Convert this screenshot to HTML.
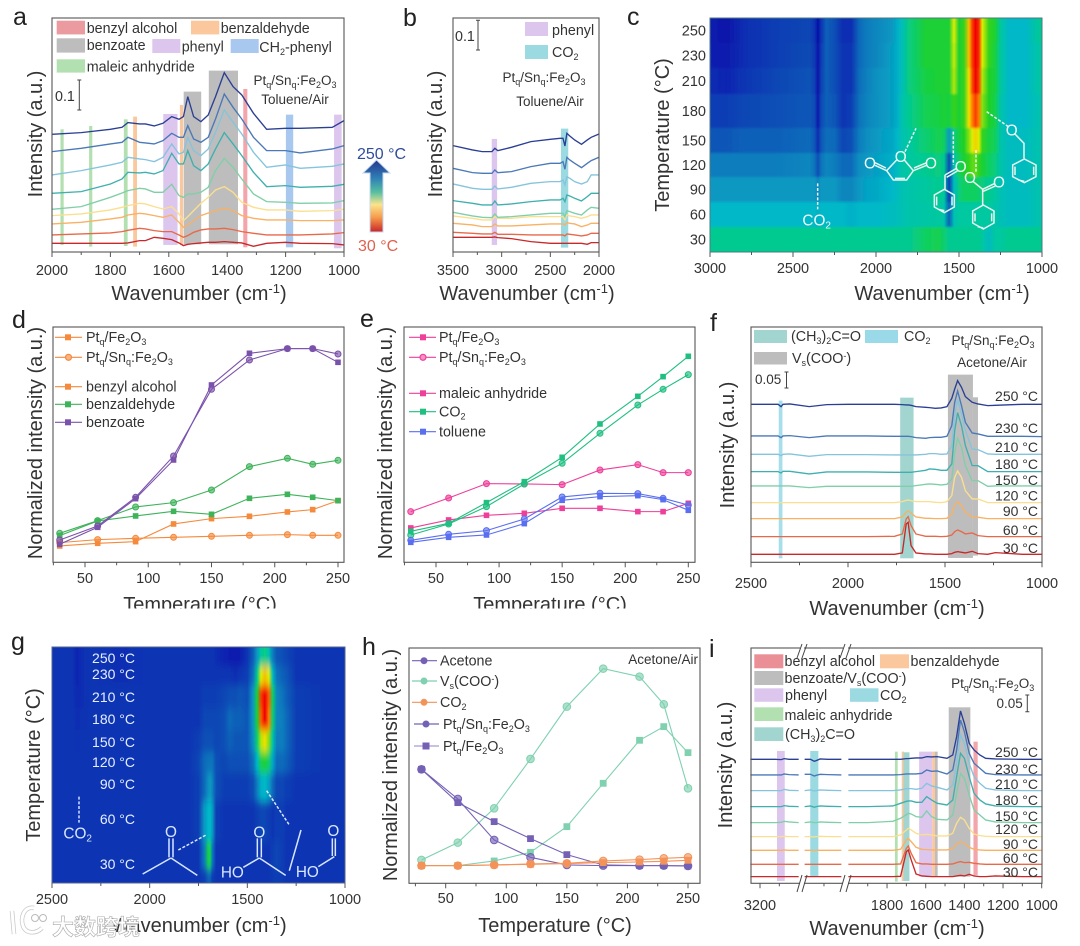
<!DOCTYPE html>
<html lang="en">
<head>
<meta charset="utf-8">
<title>Spectroscopy panels a–i</title>
<style>
html,body{margin:0;padding:0;background:#fff;width:1080px;height:946px;overflow:hidden}
svg{display:block;filter:blur(0.35px)}
text{font-family:"Liberation Sans","Noto Sans CJK SC",sans-serif;fill:#333}
.l{font-size:14.3px}
.f{font-size:13.5px}
.tt{font-size:20px;text-anchor:middle}
.letter{font-size:25px;fill:#222}
.frame{fill:none;stroke:#555;stroke-width:1.1}
.bar{stroke:#444;stroke-width:1;fill:none}
.tick{font-size:14.5px;text-anchor:middle}
.tmp{font-size:14px;text-anchor:end}
.w{fill:#e6efff}
.mol{stroke:#e8f6f0;stroke-width:4.5;fill:none}
.dash{stroke:#e8f6f0;stroke-width:4.5;fill:none;stroke-dasharray:9 5}
.molt{font-size:46px;fill:#f0fbf6;text-anchor:middle}
.molg{font-size:46px;fill:#d8e6ff;text-anchor:middle}
</style>
</head>
<body>
<svg id="figure" xmlns="http://www.w3.org/2000/svg" width="1080" height="946" viewBox="0 0 1080 946">
<defs>
<linearGradient id="arrow-gradient" x1="0" y1="0" x2="0" y2="1">
<stop offset="0" stop-color="#25358f"/><stop offset=".25" stop-color="#2f7fb5"/><stop offset=".45" stop-color="#58c0a0"/><stop offset=".62" stop-color="#fbe48c"/><stop offset=".8" stop-color="#f59a4a"/><stop offset="1" stop-color="#c8252a"/>
</linearGradient>
<filter id="blur-c" x="0" y="-10%" width="100%" height="120%"><feGaussianBlur stdDeviation="0 1"/></filter>
<filter id="blur-g" x="0" y="-10%" width="100%" height="120%"><feGaussianBlur stdDeviation="0 4.5"/></filter>
<clipPath id="clip-c"><rect x="710" y="18" width="332" height="234"/></clipPath>
<clipPath id="clip-g"><rect x="52" y="647" width="293" height="236"/></clipPath>
<clipPath id="clip-title"><rect x="0" y="585" width="1080" height="23.5"/></clipPath>
</defs>

<!-- PANEL A -->
<g>
<text class="letter" x="13" y="25">a</text>
<g id="a-bands"></g>
<g id="a-lines"></g>
<rect class="frame" x="52" y="18" width="292" height="234"/>
<g id="a-ticks"></g>
<text class="tt" transform="translate(35,134) rotate(-90)" dy=".35em">Intensity (a.u.)</text>
<text class="tt" x="199" y="300">Wavenumber (cm<tspan dy="-7" font-size="13">-1</tspan><tspan dy="7">)</tspan></text>
<g>
<rect x="56.7" y="20.7" width="28.3" height="13.7" fill="#eb9aa0"/>
<text class="l" x="86.7" y="33">benzyl alcohol</text>
<rect x="191" y="20.7" width="28.3" height="13.7" fill="#fbc79c"/>
<text class="l" x="220.7" y="33">benzaldehyde</text>
<rect x="56.7" y="38.3" width="28.3" height="14.3" fill="#bdbdbd"/>
<text class="l" x="86.7" y="50">benzoate</text>
<rect x="152.3" y="39" width="28" height="14" fill="#dcc6ee"/>
<text class="l" x="181.7" y="51.7">phenyl</text>
<rect x="230.7" y="39" width="28" height="14" fill="#a8c8f0"/>
<text class="l" x="259.3" y="52">CH<tspan dy="3" font-size="9">2</tspan><tspan dy="-3">-phenyl</tspan></text>
<rect x="56.7" y="59.3" width="28.3" height="13.3" fill="#b3e0b0"/>
<text class="l" x="86.7" y="71.7">maleic anhydride</text>
</g>
<text class="f" x="295" y="85" text-anchor="middle">Pt<tspan dy="3" font-size="9">q</tspan><tspan dy="-3">/Sn</tspan><tspan dy="3" font-size="9">q</tspan><tspan dy="-3">:Fe</tspan><tspan dy="3" font-size="9">2</tspan><tspan dy="-3">O</tspan><tspan dy="3" font-size="9">3</tspan></text>
<text class="f" x="295" y="104" text-anchor="middle">Toluene/Air</text>
<path class="bar" d="M77.3 80H81.3M79.3 80V110M77.3 110H81.3"/>
<text class="l" x="55" y="101">0.1</text>
<polygon points="376.5,160 390,173 383,173 383,232 370,232 370,173 363,173" fill="url(#arrow-gradient)" stroke="#c9d7f2" stroke-width="1"/>
<text x="357" y="159" font-size="16" style="fill:#2f4d9c">250 °C</text>
<text x="358" y="251" font-size="16" style="fill:#e0604e">30 °C</text>
</g>

<!-- PANEL B -->
<g>
<text class="letter" x="403" y="26">b</text>
<g id="b-bands"></g>
<g id="b-lines"></g>
<rect class="frame" x="453" y="18" width="146" height="234"/>
<g id="b-ticks"></g>
<text class="tt" transform="translate(435,134) rotate(-90)" dy=".35em">Intensity (a.u.)</text>
<text class="tt" x="527" y="300">Wavenumber (cm<tspan dy="-7" font-size="13">-1</tspan><tspan dy="7">)</tspan></text>
<rect x="525" y="22" width="23" height="14" fill="#dcc6ee"/>
<text class="l" x="552" y="35">phenyl</text>
<rect x="525" y="45" width="23" height="14" fill="#9adae0"/>
<text class="l" x="552" y="57">CO<tspan dy="3" font-size="9">2</tspan></text>
<text class="f" x="544" y="82" text-anchor="middle">Pt<tspan dy="3" font-size="9">q</tspan><tspan dy="-3">/Sn</tspan><tspan dy="3" font-size="9">q</tspan><tspan dy="-3">:Fe</tspan><tspan dy="3" font-size="9">2</tspan><tspan dy="-3">O</tspan><tspan dy="3" font-size="9">3</tspan></text>
<text class="f" x="550" y="106" text-anchor="middle">Toluene/Air</text>
<path class="bar" d="M476 20.300H480M478 20.300V50M476 50H480"/>
<text class="l" x="455" y="41">0.1</text>
</g>

<!-- PANEL C -->
<g>
<text class="letter" x="627" y="25">c</text>
<g clip-path="url(#clip-c)"><g id="c-heat" filter="url(#blur-c)"></g></g>
<rect x="710" y="18" width="332" height="234" fill="none" stroke="#4d7a80" stroke-width="1"/>
<g id="c-ticks"></g>
<g id="c-yticks"></g>
<text class="tt" transform="translate(662,135) rotate(-90)" dy=".35em">Temperature (°C)</text>
<text class="tt" x="942" y="300">Wavenumber (cm<tspan dy="-7" font-size="13">-1</tspan><tspan dy="7">)</tspan></text>
<g transform="translate(640,0) scale(.33333)">
<path class="dash" d="M533 550V628"/>
<text class="molt" x="530" y="676">CO<tspan dy="9" font-size="30">2</tspan></text>
<g>
<path class="dash" d="M795 455L828 385"/>
<path class="mol" d="M770 480L740 512L760 540H800L820 512L793 480M765 535H795M740 512L705 496M738 504L705 488M820 512L860 496M822 504L860 488"/>
<text class="molt" x="782" y="486">O</text><text class="molt" x="690" y="506">O</text><text class="molt" x="873" y="506">O</text>
</g>
<g>
<path class="dash" d="M940 395V495"/>
<path class="mol" d="M950 505L915 525M952 513L920 532M915 525V570M913 568L943 585V621L913 638L883 621V585ZM890 590V616M936 590V616M895 628L913 632"/>
<text class="molt" x="962" y="516">O</text>
</g>
<g>
<path class="dash" d="M1008 450V520"/>
<path class="mol" d="M1000 545L1028 568L1065 550M1030 574L1066 558M1028 568V615M1030 615L1062 633V669L1030 687L998 669V633ZM1005 640V664M1055 640V664M1013 680L1030 684"/>
<text class="molt" x="990" y="549">O</text><text class="molt" x="1077" y="563">O</text>
</g>
<g>
<path class="dash" d="M1040 335L1105 380"/>
<path class="mol" d="M1125 402L1152 430V475M1153 477L1188 495V530L1153 548L1118 530V495ZM1125 500V525M1181 500V525M1135 540L1153 544"/>
<text class="molt" x="1115" y="406">O</text>
</g>
</g>
</g>

<!-- PANEL D -->
<g>
<text class="letter" x="12" y="328">d</text>
<g id="d-lines"></g>
<rect class="frame" x="53" y="327" width="291" height="235.300"/>
<g id="d-ticks"></g>
<text class="tt" transform="translate(35,443) rotate(-90)" dy=".35em">Normalized intensity (a.u.)</text>
<g clip-path="url(#clip-title)"><text class="tt" x="200" y="611">Temperature (°C)</text></g>
<g stroke-width="1.2">
<path d="M55 337.300H82" stroke="#f58a3c"/><rect x="65" y="334.300" width="6" height="6" fill="#f58a3c"/>
<text class="l" x="86" y="342">Pt<tspan dy="3" font-size="9">q</tspan><tspan dy="-3">/Fe</tspan><tspan dy="3" font-size="9">2</tspan><tspan dy="-3">O</tspan><tspan dy="3" font-size="9">3</tspan></text>
<path d="M55 357.300H82" stroke="#f58a3c"/><circle cx="68.500" cy="357.300" r="3" fill="#f9b483" stroke="#f58a3c"/>
<text class="l" x="86" y="362">Pt<tspan dy="3" font-size="9">q</tspan><tspan dy="-3">/Sn</tspan><tspan dy="3" font-size="9">q</tspan><tspan dy="-3">:Fe</tspan><tspan dy="3" font-size="9">2</tspan><tspan dy="-3">O</tspan><tspan dy="3" font-size="9">3</tspan></text>
<path d="M55 386.700H82" stroke="#f58a3c"/><rect x="65" y="383.700" width="6" height="6" fill="#f58a3c"/>
<text class="l" x="86" y="391.500">benzyl alcohol</text>
<path d="M55 404.300H82" stroke="#3fb35a"/><rect x="65" y="401.300" width="6" height="6" fill="#3fb35a"/>
<text class="l" x="86" y="409">benzaldehyde</text>
<path d="M55 422.300H82" stroke="#7b52ab"/><rect x="65" y="419.300" width="6" height="6" fill="#7b52ab"/>
<text class="l" x="86" y="427">benzoate</text>
</g>
</g>

<!-- PANEL E -->
<g>
<text class="letter" x="360" y="327">e</text>
<g id="e-lines"></g>
<rect class="frame" x="404" y="327" width="291" height="235.300"/>
<g id="e-ticks"></g>
<text class="tt" transform="translate(385,443) rotate(-90)" dy=".35em">Normalized intensity (a.u.)</text>
<g clip-path="url(#clip-title)"><text class="tt" x="550" y="611">Temperature (°C)</text></g>
<g stroke-width="1.2">
<path d="M409 337.300H436" stroke="#ee3f9a"/><rect x="420" y="334.300" width="6" height="6" fill="#ee3f9a"/>
<text class="l" x="439" y="342">Pt<tspan dy="3" font-size="9">q</tspan><tspan dy="-3">/Fe</tspan><tspan dy="3" font-size="9">2</tspan><tspan dy="-3">O</tspan><tspan dy="3" font-size="9">3</tspan></text>
<path d="M409 357.300H436" stroke="#ee3f9a"/><circle cx="423" cy="357.300" r="3" fill="#f58fc4" stroke="#ee3f9a"/>
<text class="l" x="439" y="362">Pt<tspan dy="3" font-size="9">q</tspan><tspan dy="-3">/Sn</tspan><tspan dy="3" font-size="9">q</tspan><tspan dy="-3">:Fe</tspan><tspan dy="3" font-size="9">2</tspan><tspan dy="-3">O</tspan><tspan dy="3" font-size="9">3</tspan></text>
<path d="M409 393.300H436" stroke="#ee3f9a"/><rect x="420" y="390.300" width="6" height="6" fill="#ee3f9a"/>
<text class="l" x="439" y="398">maleic anhydride</text>
<path d="M409 411.700H436" stroke="#1fbf80"/><rect x="420" y="408.700" width="6" height="6" fill="#1fbf80"/>
<text class="l" x="439" y="416.500">CO<tspan dy="3" font-size="9">2</tspan></text>
<path d="M409 431.700H436" stroke="#5a6ff0"/><rect x="420" y="428.700" width="6" height="6" fill="#5a6ff0"/>
<text class="l" x="439" y="436.500">toluene</text>
</g>
</g>

<!-- PANEL F -->
<g>
<text class="letter" x="710" y="331">f</text>
<g id="f-bands"></g>
<g id="f-lines"></g>
<rect class="frame" x="751" y="327" width="291" height="235.300"/>
<g id="f-ticks"></g>
<text class="tt" transform="translate(727,445) rotate(-90)" dy=".35em">Intensity (a.u.)</text>
<text class="tt" x="897" y="615">Wavenumber (cm<tspan dy="-7" font-size="13">-1</tspan><tspan dy="7">)</tspan></text>
<rect x="754" y="330" width="33" height="13" fill="#a2d5cf"/>
<text class="l" x="791" y="341">(CH<tspan dy="3" font-size="9">3</tspan><tspan dy="-3">)</tspan><tspan dy="3" font-size="9">2</tspan><tspan dy="-3">C=O</tspan></text>
<rect x="865" y="330" width="33" height="13" fill="#9adae8"/>
<text class="l" x="904" y="341">CO<tspan dy="3" font-size="9">2</tspan></text>
<rect x="754" y="352" width="33" height="12.500" fill="#bdbdbd"/>
<text class="l" x="792" y="363">V<tspan dy="3" font-size="9">s</tspan><tspan dy="-3">(COO</tspan><tspan dy="-4" font-size="9">-</tspan><tspan dy="4">)</tspan></text>
<text class="f" x="993" y="345" text-anchor="middle">Pt<tspan dy="3" font-size="9">q</tspan><tspan dy="-3">/Sn</tspan><tspan dy="3" font-size="9">q</tspan><tspan dy="-3">:Fe</tspan><tspan dy="3" font-size="9">2</tspan><tspan dy="-3">O</tspan><tspan dy="3" font-size="9">3</tspan></text>
<text class="f" x="992" y="367" text-anchor="middle">Acetone/Air</text>
<text class="f" x="755" y="384">0.05</text>
<path class="bar" d="M784.500 372H788.500M786.500 372V388M784.500 388H788.500"/>
<g>
<text class="tmp" x="1038" y="401">250 °C</text>
<text class="tmp" x="1038" y="433">230 °C</text>
<text class="tmp" x="1038" y="452">210 °C</text>
<text class="tmp" x="1038" y="469">180 °C</text>
<text class="tmp" x="1038" y="485">150 °C</text>
<text class="tmp" x="1038" y="500.500">120 °C</text>
<text class="tmp" x="1038" y="516">90 °C</text>
<text class="tmp" x="1038" y="535">60 °C</text>
<text class="tmp" x="1038" y="553">30 °C</text>
</g>
</g>

<!-- PANEL G -->
<g>
<text class="letter" x="11" y="650">g</text>
<g clip-path="url(#clip-g)"><g id="g-heat" filter="url(#blur-g)"></g></g>
<rect x="52" y="647" width="293" height="236" fill="none" stroke="#55648f" stroke-width="1"/>
<g id="g-ticks"></g>
<text class="tt" transform="translate(33,765) rotate(-90)" dy=".35em">Temperature (°C)</text>
<text class="tt" x="199" y="932">Wavenumber (cm<tspan dy="-7" font-size="13">-1</tspan><tspan dy="7">)</tspan></text>
<g>
<text class="tmp w" x="135" y="663">250 °C</text>
<text class="tmp w" x="135" y="679">230 °C</text>
<text class="tmp w" x="135" y="702">210 °C</text>
<text class="tmp w" x="135" y="724">180 °C</text>
<text class="tmp w" x="135" y="747">150 °C</text>
<text class="tmp w" x="135" y="767">120 °C</text>
<text class="tmp w" x="135" y="789">90 °C</text>
<text class="tmp w" x="135" y="824">60 °C</text>
<text class="tmp w" x="135" y="869">30 °C</text>
</g>
<g transform="translate(0,620) scale(.33333)">
<path class="dash" d="M237 530V608" style="stroke:#cfe0ff"/>
<text class="molg" x="233" y="656">CO<tspan dy="9" font-size="30">2</tspan></text>
<g>
<path class="dash" d="M535 690L618 645" style="stroke:#d8e6ff"/>
<path class="mol" d="M507 655V712M519 655V712M513 714L428 762M513 714L592 766" style="stroke:#d8e6ff"/>
<text class="molg" x="513" y="651">O</text>
</g>
<g>
<path class="dash" d="M800 512L868 615" style="stroke:#d8e6ff"/>
<path class="mol" d="M772 655V712M784 655V712M778 714L730 742M778 714L857 766" style="stroke:#d8e6ff"/>
<text class="molg" x="778" y="653">O</text><text class="molg" x="697" y="773">HO</text>
</g>
<path class="mol" d="M903 630L868 752" style="stroke:#d8e6ff"/>
<g>
<path class="mol" d="M997 655V708M1006 655V708M1003 710L955 740" style="stroke:#d8e6ff"/>
<text class="molg" x="1000" y="648">O</text><text class="molg" x="922" y="771">HO</text>
</g>
</g>
</g>

<!-- PANEL H -->
<g>
<text class="letter" x="362" y="655">h</text>
<g id="h-lines"></g>
<rect class="frame" x="409" y="648" width="291" height="235.300"/>
<g id="h-ticks"></g>
<text class="tt" transform="translate(390,765) rotate(-90)" dy=".35em">Normalized intensity (a.u.)</text>
<text class="tt" x="555" y="932">Temperature (°C)</text>
<text class="f" x="698" y="664" text-anchor="end">Acetone/Air</text>
<g stroke-width="1.2">
<path d="M412 660.700H437" stroke="#7461b5"/><circle cx="424" cy="660.700" r="3.500" fill="#7461b5"/>
<text class="l" x="440" y="665.500">Acetone</text>
<path d="M412 681H437" stroke="#7fd1b0"/><circle cx="424" cy="681" r="3.500" fill="#7fd1b0"/>
<text class="l" x="440" y="686">V<tspan dy="3" font-size="9">s</tspan><tspan dy="-3">(COO</tspan><tspan dy="-4" font-size="9">-</tspan><tspan dy="4">)</tspan></text>
<path d="M412 702.300H437" stroke="#f3935a"/><circle cx="424" cy="702.300" r="3.500" fill="#f3935a"/>
<text class="l" x="440" y="707">CO<tspan dy="3" font-size="9">2</tspan></text>
<path d="M414 724H439" stroke="#7461b5"/><circle cx="426" cy="724" r="3.500" fill="#7461b5"/>
<text class="l" x="443" y="729">Pt<tspan dy="3" font-size="9">q</tspan><tspan dy="-3">/Sn</tspan><tspan dy="3" font-size="9">q</tspan><tspan dy="-3">:Fe</tspan><tspan dy="3" font-size="9">2</tspan><tspan dy="-3">O</tspan><tspan dy="3" font-size="9">3</tspan></text>
<path d="M414 746H439" stroke="#a79ad6"/><rect x="422.500" y="742.500" width="7" height="7" fill="#7461b5"/>
<text class="l" x="443" y="751">Pt<tspan dy="3" font-size="9">q</tspan><tspan dy="-3">/Fe</tspan><tspan dy="3" font-size="9">2</tspan><tspan dy="-3">O</tspan><tspan dy="3" font-size="9">3</tspan></text>
</g>
</g>

<!-- PANEL I -->
<g>
<text class="letter" x="709" y="657">i</text>
<g id="i-bands"></g>
<g id="i-lines"></g>
<rect class="frame" x="751" y="648" width="291" height="235.300"/>
<g>
<rect x="800" y="645" width="4" height="6" fill="#fff"/>
<rect x="843" y="645" width="5" height="6" fill="#fff"/>
<rect x="800" y="880" width="4" height="6" fill="#fff"/>
<rect x="843" y="880" width="5" height="6" fill="#fff"/>
<path class="bar" d="M797 658L802 644M802 658L807 644M840 658L845 644M846 658L851 644M797 892L802 875M802 892L807 875M840 892L845 875M846 892L851 875"/>
</g>
<g id="i-ticks"></g>
<text class="tt" transform="translate(725,765) rotate(-90)" dy=".35em">Intensity (a.u.)</text>
<text class="tt" x="897" y="935">Wavenumber (cm<tspan dy="-7" font-size="13">-1</tspan><tspan dy="7">)</tspan></text>
<g>
<rect x="754.300" y="654.300" width="29" height="14" fill="#eb8f97"/>
<text class="l" x="784.500" y="666">benzyl alcohol</text>
<rect x="880" y="654.300" width="29" height="14" fill="#fbc79c"/>
<text class="l" x="910.500" y="666">benzaldehyde</text>
<rect x="754.300" y="671" width="29" height="14" fill="#bdbdbd"/>
<text class="l" x="784.500" y="683">benzoate/V<tspan dy="3" font-size="9">s</tspan><tspan dy="-3">(COO</tspan><tspan dy="-4" font-size="9">-</tspan><tspan dy="4">)</tspan></text>
<rect x="754.300" y="688.300" width="29" height="13.500" fill="#dcc6ee"/>
<text class="l" x="785" y="700">phenyl</text>
<rect x="850" y="688.300" width="28.500" height="13.500" fill="#9adae0"/>
<text class="l" x="880" y="700">CO<tspan dy="3" font-size="9">2</tspan></text>
<rect x="754.300" y="707.300" width="29" height="13.700" fill="#b3e0b0"/>
<text class="l" x="784.500" y="720">maleic anhydride</text>
<rect x="754.300" y="727.300" width="29" height="13.700" fill="#a2d5cf"/>
<text class="l" x="785" y="739">(CH<tspan dy="3" font-size="9">3</tspan><tspan dy="-3">)</tspan><tspan dy="3" font-size="9">2</tspan><tspan dy="-3">C=O</tspan></text>
</g>
<text class="f" x="992.700" y="688" text-anchor="middle">Pt<tspan dy="3" font-size="9">q</tspan><tspan dy="-3">/Sn</tspan><tspan dy="3" font-size="9">q</tspan><tspan dy="-3">:Fe</tspan><tspan dy="3" font-size="9">2</tspan><tspan dy="-3">O</tspan><tspan dy="3" font-size="9">3</tspan></text>
<text class="f" x="996.500" y="708">0.05</text>
<path class="bar" d="M1025.300 695H1029.300M1027.300 695V711.700M1025.300 711.700H1029.300"/>
<g>
<text class="tmp" x="1038" y="757">250 °C</text>
<text class="tmp" x="1038" y="774">230 °C</text>
<text class="tmp" x="1038" y="789">210 °C</text>
<text class="tmp" x="1038" y="805">180 °C</text>
<text class="tmp" x="1038" y="821">150 °C</text>
<text class="tmp" x="1038" y="834">120 °C</text>
<text class="tmp" x="1038" y="849">90 °C</text>
<text class="tmp" x="1038" y="863">60 °C</text>
<text class="tmp" x="1038" y="877">30 °C</text>
</g>
</g>

<!-- WATERMARK -->
<g>
<path d="M12 911L14 934M34 908C24 906 20 918 23 926C26 934 36 934 42 928" fill="none" stroke="#c8c8c8" stroke-width="4.500"/>
<path d="M12 911L14 934M34 908C24 906 20 918 23 926C26 934 36 934 42 928" fill="none" stroke="#fff" stroke-width="3"/>
<circle cx="35" cy="918" r="3.500" fill="#fff" stroke="#bbb"/>
<circle cx="43" cy="918" r="3.500" fill="#fff" stroke="#bbb"/>
<text x="52" y="935" font-size="22" style="fill:#fff;stroke:#aaa;stroke-width:.6;font-weight:bold">大数跨境</text>
</g>
</svg>

<script>
/* ---------- shared labels ---------- */
const temperatures = [250, 230, 210, 180, 150, 120, 90, 60, 30];
const seriesTemps = [30, 60, 90, 120, 150, 180, 210, 230, 250];
const gRowNames = [250, 230, 210, 180, 150, 120, 90, 60, 30, 'below-30'];

/* ---------- panel a: wavenumbers and intensities (0.1 a.u. = 90 units) ---------- */
const aWavenumbers = [2000,1900,1800,1760,1740,1700,1680,1650,1620,1590,1565,1550,1535,1515,1490,1465,1440,1410,1380,1350,1310,1265,1200,1150,1040,1000];
const aT250 = [354,359,369,375,389,385,385,379,387,407,399,407,467,407,392,412,467,539,497,472,417,369,372,372,375,395];
const aT230 = [302,312,325,330,345,330,328,325,335,357,345,345,380,340,330,345,400,475,435,400,345,305,305,298,310,320];
const aT210 = [232,245,262,270,285,280,278,272,285,325,295,300,345,305,290,310,360,427,390,355,300,255,262,252,258,265];
const aT180 = [177,182,205,220,240,238,240,235,245,297,265,265,305,260,245,265,310,359,325,290,240,197,200,195,198,204];
const aT150 = [129,137,165,178,185,192,190,180,180,204,170,165,175,175,180,195,245,282,255,220,175,152,150,147,148,155];
const aT120 = [110,115,127,135,140,147,145,137,130,137,115,95,107,125,147,165,187,197,180,150,135,127,127,123,125,129];
const aT90 = [85,90,100,105,112,117,115,110,105,112,90,75,82,95,110,118,125,132,125,110,102,97,97,95,95,97];
const aT60 = [52,55,58,62,66,72,70,65,62,62,52,45,50,60,67,70,70,72,68,62,57,52,52,52,55,59];
const aT30 = [27,27,27,27,28,35,35,45,42,38,28,20,24,26,28,30,30,32,30,28,18,27,30,27,26,22];
const aBands = [[1971,1960,'maleic',369,22],[1873,1862,'maleic',379,17],[1754,1741,'maleic',399,19],[1722,1709,'benzaldehyde',407,17],[1562,1551,'benzaldehyde',442,22],[1619,1570,'phenyl',415,22],[1549,1489,'benzoate',482,24],[1463,1363,'benzoate',545,24],[1345,1331,'benzyl',490,15],[1199,1174,'ch2phenyl',413,15],[1034,1008,'phenyl',413,12]];
const aTicks = [2000,1800,1600,1400,1200,1000];
const aMinor = [1900,1700,1500,1300,1100];

/* ---------- panel b ---------- */
const bWavenumbers = [3500,3300,3200,3100,3070,3040,2900,2700,2500,2400,2370,2350,2330,2300,2250,2180,2120,2080,2000];
const bT250 = [320,307,302,302,312,305,315,332,339,342,342,319,357,349,337,324,337,345,355];
const bT230 = [252,239,237,237,247,239,242,257,267,267,272,249,285,277,267,254,267,275,285];
const bT210 = [205,192,189,189,199,190,195,207,212,212,217,202,227,222,212,205,212,232,232];
const bT180 = [155,147,142,142,154,142,145,152,157,157,162,152,172,169,162,154,167,177,177];
const bT150 = [120,109,105,104,115,105,107,112,117,117,117,107,125,122,117,112,127,135,132];
const bT120 = [109,102,97,97,107,102,102,107,107,107,107,97,112,109,107,102,107,112,112];
const bT90 = [87,82,77,77,85,79,79,82,85,85,85,82,89,87,85,77,82,87,87];
const bT60 = [60,57,55,55,60,54,54,52,52,52,52,49,55,54,52,49,52,57,57];
const bT30 = [45,45,45,45,46,44,41,32,27,27,27,27,27,27,27,27,24,29,29];
const bBands = [[3102,3047,'phenyl',340,22],[2391,2316,'co2',371,14]];
const bTicks = [3500,3000,2500,2000];
const bMinor = [3250,2750,2250];

/* ---------- panel c heatmap (value 0-100 on rainbow scale) ---------- */
const cWavenumbers = [3000,2900,2800,2600,2400,2370,2350,2330,2300,2250,2200,2150,2100,2050,2000,1900,1870,1850,1800,1700,1620,1590,1560,1530,1500,1470,1440,1420,1400,1380,1360,1320,1280,1250,1200,1100,1000];
const cT250 = [14,10,18,22,24,20,8,20,30,26,18,18,32,36,38,42,48,52,62,72,72,72,72,84,72,76,88,96,100,97,84,76,72,58,50,50,60];
const cT230 = [15,13,18,22,25,21,10,22,30,26,20,20,32,36,38,44,48,52,62,72,72,72,72,83,72,76,88,96,100,97,84,76,70,58,50,50,58];
const cT210 = [18,16,20,24,27,23,10,23,30,26,20,20,33,37,40,44,48,52,62,70,72,72,72,82,72,76,86,95,100,96,82,74,70,58,50,50,58];
const cT180 = [22,22,24,26,28,25,12,25,30,28,20,22,34,38,40,44,48,54,60,68,70,72,70,76,72,76,86,92,96,92,80,74,68,56,50,50,56];
const cT150 = [28,28,30,30,32,28,18,28,33,32,24,26,36,40,42,46,50,54,58,64,68,66,42,62,70,74,80,84,87,84,76,70,66,56,52,52,56];
const cT120 = [36,36,36,36,38,34,26,34,38,36,32,32,40,42,44,48,52,56,58,60,62,60,25,55,66,72,76,78,78,76,72,66,62,56,52,52,56];
const cT90 = [42,42,42,42,42,42,38,42,42,42,38,38,42,45,46,50,52,54,56,58,60,58,22,52,62,66,66,66,66,64,62,60,58,54,52,52,56];
const cT60 = [50,50,50,50,50,50,48,50,50,50,50,48,50,50,50,52,53,54,56,57,58,56,30,54,58,58,58,58,58,58,58,58,56,54,52,52,56];
const cT30 = [60,60,60,60,60,60,60,60,60,60,60,60,60,60,60,60,60,60,60,66,68,64,60,60,60,60,60,60,60,60,58,52,58,58,60,60,60];
const cTicks = [3000,2500,2000,1500,1000];
const cMinor = [2750,2250,1750,1250];

/* ---------- panel d ---------- */
const dBenzoateFe = [54,105,191,307,532,627,641,641,600];
const dBenzoateSn = [67,109,195,319,519,607,641,641,625];
const dBenzaldehydeSn = [87,125,166,179,217,287,312,294,306];
const dBenzaldehydeFe = [80,124,139,153,144,192,204,195,185];
const dAlcoholFe = [49,57,62,115,131,138,151,158,185];
const dAlcoholSn = [59,68,72,75,78,81,83,81,81];
const tempTicks = [50,100,150,200,250];
const tempMinor = [25,75,125,175,225];

/* ---------- panel e ---------- */
const eMaleicSn = [152,193,236,235,233,277,293,269,269];
const eMaleicFe = [103,127,141,147,162,162,152,152,177];
const eCo2Fe = [93,117,179,242,315,415,498,557,618];
const eCo2Sn = [82,115,167,235,297,387,472,519,563];
const eTolueneSn = [66,84,95,130,196,207,206,192,172];
const eTolueneFe = [60,75,82,116,186,197,200,188,156];

/* ---------- panel f (0.05 a.u. = 48 units) ---------- */
const fWavenumbers = [2500,2360,2345,2335,2300,2200,2110,2000,1900,1760,1720,1700,1690,1675,1650,1600,1580,1550,1520,1490,1465,1450,1435,1415,1395,1360,1330,1280,1240,1100,1000];
const fT250 = [474,474,467,474,475,467,473,474,474,474,473,472,472,471,467,465,464,462,463,467,492,520,545,525,497,480,475,470,471,474,474];
const fT230 = [379,379,374,379,380,374,379,379,379,378,378,378,378,377,374,372,374,375,375,378,410,480,514,470,420,388,385,378,378,378,377];
const fT210 = [324,324,320,324,325,318,323,323,323,322,322,322,322,322,322,324,326,326,324,325,350,440,489,445,395,340,338,325,324,324,324];
const fT180 = [272,272,268,273,273,265,271,271,271,270,270,270,270,270,272,276,280,279,276,276,295,395,449,410,350,290,290,272,272,272,272];
const fT150 = [229,229,229,229,229,224,228,228,228,228,228,228,228,228,230,234,235,234,232,234,250,330,372,345,290,245,245,228,229,229,229];
const fT120 = [179,179,179,179,179,179,179,179,179,179,182,186,187,185,182,182,182,180,179,182,200,255,274,255,215,190,190,179,179,179,179];
const fT90 = [131,131,131,131,131,131,131,131,131,131,136,150,154,148,136,132,132,131,131,132,145,172,182,170,150,136,135,131,131,131,131];
const fT60 = [77,77,77,77,77,77,77,77,77,78,85,130,137,110,85,78,78,78,77,78,82,92,97,92,85,88,80,77,77,77,77];
const fT30 = [24,24,24,24,24,24,24,24,24,24,28,115,120,50,28,25,25,24,24,24,26,30,32,30,28,33,26,24,29,24,24];
const fBands = [[2357,2338,'co2f',485,12],[1731,1662,'acetone',494,12],[1485,1356,'benzoate',563,13],[1356,1330,'benzoate',495,20]];
const fTicks = [2500,2000,1500,1000];
const fMinor = [2250,1750,1250];

/* ---------- panel g heatmap ---------- */
const gWavenumbers = [2500,2400,2370,2350,2300,2150,2000,1900,1800,1750,1720,1700,1690,1680,1660,1620,1590,1560,1540,1500,1470,1450,1430,1410,1390,1370,1350,1320,1300,1250,1100,1000];
const gT250 = [20,20,16,18,20,18,20,20,20,20,20,20,20,20,18,16,14,12,14,20,30,42,58,62,54,36,28,26,24,20,20,20];
const gT230 = [20,20,16,18,20,18,20,20,20,20,20,20,20,20,20,20,20,18,20,22,34,60,84,88,84,52,34,30,28,20,20,20];
const gT210 = [20,20,17,18,20,20,20,20,20,20,22,22,22,22,22,24,26,26,28,26,42,72,96,100,94,66,38,34,30,22,20,20];
const gT180 = [20,20,18,19,20,20,20,20,20,20,24,24,24,24,24,26,32,30,30,28,42,72,94,100,92,64,38,36,32,22,20,20];
const gT150 = [20,20,19,20,20,20,20,20,20,22,26,26,26,26,24,26,30,28,28,28,40,64,82,86,80,56,36,36,32,22,20,20];
const gT120 = [20,20,20,20,20,20,20,20,20,24,32,34,34,34,26,24,26,26,26,26,34,50,68,72,64,46,32,32,30,22,20,20];
const gT90 = [20,20,20,20,20,20,20,20,20,22,32,40,42,38,26,22,22,22,22,22,26,36,48,50,44,32,24,24,22,20,20,20];
const gT60 = [20,20,20,20,20,20,20,20,20,22,42,50,50,44,22,20,20,20,20,20,20,22,24,24,22,20,22,22,20,20,20,20];
const gT30 = [20,20,20,20,20,20,20,20,20,20,36,70,66,36,20,20,20,20,20,20,20,20,20,20,20,22,24,22,20,20,20,20];
const gBelow30 = [20,20,20,20,20,20,20,20,20,20,22,30,30,22,20,20,20,20,20,20,20,20,20,20,20,21,22,21,20,20,20,20];

/* ---------- panel h ---------- */
const hCooSn = [70,122,225,373,530,644,620,537,285];
const hCooFe = [53,53,67,93,170,300,429,470,392];
const hAcetoneSn = [342,253,130,78,55,53,53,53,52];
const hAcetoneFe = [342,242,185,134,86,55,53,53,52];
const hCo2Sn = [53,53,55,58,60,67,71,75,78];
const hCo2Fe = [53,53,55,57,59,62,64,66,69];

/* ---------- panel i: three axis segments ---------- */
const iWavenumbers1 = [3250,3120,3090,3075,3050,3000];
const iWavenumbers2 = [2400,2370,2350,2340,2320,2280,2210];
const iWavenumbers3 = [2000,1900,1770,1730,1700,1690,1675,1650,1620,1595,1570,1540,1490,1460,1440,1420,1400,1375,1350,1320,1290,1240,1100,1000];
const iT250 = [372,372,371,374,372,372, 372,372,366,368,373,372,372, 372,372,372,372,374,374,375,376,376,380,379,380,375,385,440,517,480,420,400,385,375,373,372,372];
const iT230 = [325,325,325,328,326,325, 327,327,322,324,327,326,325, 325,325,325,326,328,328,328,328,330,340,336,337,328,340,400,490,455,390,360,345,330,326,325,325];
const iT210 = [278,278,278,282,279,278, 278,280,277,278,280,279,278, 278,278,278,280,284,284,284,282,285,300,292,288,280,295,360,445,420,360,320,300,285,280,278,278];
const iT180 = [230,230,230,233,231,230, 230,232,228,230,232,231,230, 230,230,232,240,246,247,247,243,243,260,250,240,235,250,320,390,375,320,270,250,238,232,230,230];
const iT150 = [182,182,183,186,184,182, 182,184,182,182,184,183,182, 182,182,186,195,206,210,208,200,198,217,200,192,190,205,270,330,315,265,220,205,190,184,182,182];
const iT120 = [140,140,140,141,140,140, 140,140,139,140,141,140,140, 140,140,140,145,160,165,160,150,145,147,145,142,142,150,180,198,190,165,148,143,141,140,140,140];
const iT90 = [99,99,99,100,99,99, 99,99,98,99,99,99,99, 99,99,99,102,130,135,125,108,102,101,100,100,100,104,118,125,120,108,102,100,99,99,99,99];
const iT60 = [57,57,57,57,57,57, 57,57,57,57,57,57,57, 57,57,57,58,105,112,90,62,58,58,57,57,57,58,62,65,62,63,60,58,57,57,57,57];
const iT30 = [20,20,20,20,20,20, 20,20,20,20,20,20,20, 20,20,20,21,95,100,70,28,22,21,20,20,20,20,22,24,22,27,22,20,20,22,20,20];
const iBands = [[3112,3072,'phenyl',397,7],[2371,2329,'co2',397,20],[1759,1745,'maleic',395,5],[1724,1712,'benzaldehyde',395,7],[1715,1684,'acetone',393,7],[1634,1566,'phenyl',395,20],[1566,1552,'benzaldehyde',395,20],[1552,1538,'benzoate',395,20],[1481,1369,'benzoate',528,20],[1353,1331,'benzyl',425,25]];
const iTicks = [3200,1800,1600,1400,1200,1000];
const iMinor = [3100,2300,1900,1700,1500,1300,1100];

/* ---------- layout constants and style maps (not data) ---------- */
const lineColors = {250:'#2a3f94',230:'#4a78b8',210:'#85c4dc',180:'#3fb0ae',150:'#80cfa9',120:'#fbdf8f',90:'#f9b164',60:'#e8694a',30:'#c8282a'};
const bandColors = {maleic:'#b3e0b0',benzaldehyde:'#fbc79c',phenyl:'#dcc6ee',benzoate:'#bdbdbd',benzyl:'#f2a6ab',ch2phenyl:'#a8c8f0',co2:'#9adae0',co2f:'#a4dfea',acetone:'#a2d5cf'};
const rowWeightsC = [25,25,26,34,25,24,25,25,25];
const rowWeightsG = [19,19,23,22,22,21,28,40,28,14];
const rampStops = [[0,0,0,154],[15,10,32,176],[30,10,96,184],[40,10,144,192],[50,0,184,200],[58,0,200,160],[66,16,208,96],[75,32,208,32],[85,240,240,0],[92,255,128,0],[100,240,0,0]];

const NS = 'http://www.w3.org/2000/svg';
const byId = id => document.getElementById(id);
const linear = (d0, d1, r0, r1) => v => r0 + (v - d0) * (r1 - r0) / (d1 - d0);

function rampColor(v) {
  for (let k = 1; k < rampStops.length; k++) {
    if (v <= rampStops[k][0]) {
      const a = rampStops[k - 1], b = rampStops[k], t = (v - a[0]) / (b[0] - a[0]);
      return 'rgb(' + [1, 2, 3].map(c => Math.round(a[c] + (b[c] - a[c]) * t)).join(',') + ')';
    }
  }
  return 'rgb(240,0,0)';
}

function drawBands(parent, bands, xs, baseY) {
  bands.forEach(b => {
    const el = document.createElementNS(NS, 'rect');
    
    
    const xa = xs(b[0]), xb = xs(b[1]);
    el.setAttribute('x', Math.min(xa, xb));
    el.setAttribute('width', Math.abs(xb - xa));
    el.setAttribute('y', baseY - b[3] / 3);
    el.setAttribute('height', (b[3] - b[4]) / 3);
    el.setAttribute('fill', bandColors[b[2]]);
    parent.appendChild(el);
  });
}

function drawSpectrum(parent, segments, values, xs, baseY, temp) {
  const el = document.createElementNS(NS, 'path');
  
  
  let k = 0, d = '';
  segments.forEach(seg => {
    seg.forEach((wn, i) => {
      d += (i ? 'L' : 'M') + xs(wn).toFixed(2) + ' ' + (baseY - values[k] / 3).toFixed(2);
      k++;
    });
  });
  el.setAttribute('d', d);
  el.setAttribute('fill', 'none');
  el.setAttribute('stroke', lineColors[temp]);
  el.setAttribute('stroke-width', '1.35');
  parent.appendChild(el);
}

function drawTicks(parent, majors, minors, xs, axisY, labelY) {
  minors.forEach(v => {
    const el = document.createElementNS(NS, 'line');
    
    
    el.setAttribute('x1', xs(v)); el.setAttribute('x2', xs(v));
    el.setAttribute('y1', axisY); el.setAttribute('y2', axisY + 3);
    el.setAttribute('stroke', '#555');
    parent.appendChild(el);
  });
  majors.forEach(v => {
    const el = document.createElementNS(NS, 'line');
    
    
    el.setAttribute('x1', xs(v)); el.setAttribute('x2', xs(v));
    el.setAttribute('y1', axisY); el.setAttribute('y2', axisY + 5);
    el.setAttribute('stroke', '#555');
    parent.appendChild(el);
    const tx = document.createElementNS(NS, 'text');
    
    
    tx.setAttribute('class', 'tick');
    tx.setAttribute('x', xs(v));
    tx.setAttribute('y', labelY);
    tx.textContent = v;
    parent.appendChild(tx);
  });
}

function drawSeries(parent, values, xs, baseY, color, marker, size) {
  const line = document.createElementNS(NS, 'path');
  
  
  line.setAttribute('d', values.map((v, i) => (i ? 'L' : 'M') + xs(seriesTemps[i]).toFixed(2) + ' ' + (baseY - v / 3).toFixed(2)).join(''));
  line.setAttribute('fill', 'none');
  line.setAttribute('stroke', color);
  line.setAttribute('stroke-width', '1.1');
  parent.appendChild(line);
  values.forEach((v, i) => {
    const cx = xs(seriesTemps[i]), cy = baseY - v / 3;
    if (marker === 'square') {
      const m = document.createElementNS(NS, 'rect');
      
      
      m.setAttribute('x', cx - size);
      m.setAttribute('y', cy - size);
      m.setAttribute('width', size * 2);
      m.setAttribute('height', size * 2);
      m.setAttribute('fill', color);
      parent.appendChild(m);
    } else {
      const m = document.createElementNS(NS, 'circle');
      
      
      m.setAttribute('cx', cx);
      m.setAttribute('cy', cy);
      m.setAttribute('r', size);
      m.setAttribute('fill', color);
      m.setAttribute('fill-opacity', '.65');
      m.setAttribute('stroke', color);
      parent.appendChild(m);
    }
  });
}

function drawHeatmap(parent, panelId, wavenumbers, rows, rowNames, weights, xs, x0, x1, yTop, yBottom) {
  const defs = document.querySelector('defs');
  const total = weights.reduce((s, w) => s + w, 0);
  const scale = (yBottom - yTop) / total;
  let y = yTop;
  rows.forEach((row, r) => {
    const grad = document.createElementNS(NS, 'linearGradient');
    const gid = panelId + '-row-' + r;
    grad.setAttribute('id', gid);
    row.forEach((v, c) => {
      const st = document.createElementNS(NS, 'stop');
      st.setAttribute('offset', ((xs(wavenumbers[c]) - x0) / (x1 - x0)).toFixed(4));
      st.setAttribute('stop-color', rampColor(v));
      grad.appendChild(st);
    });
    defs.appendChild(grad);
    const h = weights[r] * scale;
    const pad = 20;
    const el = document.createElementNS(NS, 'rect');
    
    
    el.setAttribute('x', x0);
    el.setAttribute('width', x1 - x0);
    el.setAttribute('y', r === 0 ? y - pad : y);
    el.setAttribute('height', h + (r === 0 || r === rows.length - 1 ? pad : 0.5));
    el.setAttribute('fill', 'url(#' + gid + ')');
    parent.appendChild(el);
    y += h;
  });
}

function drawRowLabels(parent, weights, yTop, yBottom) {
  const total = weights.reduce((s, w) => s + w, 0);
  const scale = (yBottom - yTop) / total;
  let y = yTop;
  temperatures.forEach((t, r) => {
    const h = weights[r] * scale;
    const tx = document.createElementNS(NS, 'text');
    
    
    tx.setAttribute('class', 'tick');
    tx.setAttribute('text-anchor', 'end');
    tx.setAttribute('style', 'text-anchor:end');
    tx.setAttribute('x', 706);
    tx.setAttribute('y', y + h / 2 + 5);
    tx.textContent = t;
    parent.appendChild(tx);
    y += h;
  });
}

/* axes */
const xA = linear(2000, 1000, 52, 344);
const xB = linear(3500, 2000, 453, 599);
const xC = linear(3000, 1000, 710, 1042);
const xD = linear(50, 250, 85, 338);
const xE = linear(50, 250, 436, 688.3);
const xF = linear(2500, 1000, 751, 1042);
const xG = linear(2500, 1000, 52, 345);
const xH = linear(50, 250, 445.7, 688);
const xI = wn => wn >= 2900 ? 760 + (3200 - wn) * 0.19333
  : wn >= 2100 ? 814.3 + (2350 - wn) * 0.19333
  : 1041.7 - (wn - 1000) * 0.19333;

/* panel a */
drawBands(byId('a-bands'), aBands, xA, 252.3);
[aT30, aT60, aT90, aT120, aT150, aT180, aT210, aT230, aT250].forEach((vals, i) => drawSpectrum(byId('a-lines'), [aWavenumbers], vals, xA, 252.3, seriesTemps[i]));
drawTicks(byId('a-ticks'), aTicks, aMinor, xA, 252, 275);

/* panel b */
drawBands(byId('b-bands'), bBands, xB, 252.3);
[bT30, bT60, bT90, bT120, bT150, bT180, bT210, bT230, bT250].forEach((vals, i) => drawSpectrum(byId('b-lines'), [bWavenumbers], vals, xB, 252.3, seriesTemps[i]));
drawTicks(byId('b-ticks'), bTicks, bMinor, xB, 252, 275);

/* panel c */
drawHeatmap(byId('c-heat'), 'c', cWavenumbers, [cT250, cT230, cT210, cT180, cT150, cT120, cT90, cT60, cT30], temperatures, rowWeightsC, xC, 710, 1042, 18, 252);
drawTicks(byId('c-ticks'), cTicks, cMinor, xC, 252, 273);
drawRowLabels(byId('c-yticks'), rowWeightsC, 18, 252);

/* panel d */
const dLayer = byId('d-lines');
drawSeries(dLayer, dAlcoholSn, xD, 562.3, '#f58a3c', 'circle', 3);
drawSeries(dLayer, dAlcoholFe, xD, 562.3, '#f58a3c', 'square', 2.8);
drawSeries(dLayer, dBenzaldehydeSn, xD, 562.3, '#3fb35a', 'circle', 3);
drawSeries(dLayer, dBenzaldehydeFe, xD, 562.3, '#3fb35a', 'square', 2.8);
drawSeries(dLayer, dBenzoateSn, xD, 562.3, '#7b52ab', 'circle', 3);
drawSeries(dLayer, dBenzoateFe, xD, 562.3, '#7b52ab', 'square', 2.8);
drawTicks(byId('d-ticks'), tempTicks, tempMinor, xD, 562.3, 583);

/* panel e */
const eLayer = byId('e-lines');
drawSeries(eLayer, eMaleicSn, xE, 562.3, '#ee3f9a', 'circle', 3);
drawSeries(eLayer, eMaleicFe, xE, 562.3, '#ee3f9a', 'square', 2.8);
drawSeries(eLayer, eCo2Sn, xE, 562.3, '#1fbf80', 'circle', 3);
drawSeries(eLayer, eCo2Fe, xE, 562.3, '#1fbf80', 'square', 2.8);
drawSeries(eLayer, eTolueneSn, xE, 562.3, '#5a6ff0', 'circle', 3);
drawSeries(eLayer, eTolueneFe, xE, 562.3, '#5a6ff0', 'square', 2.8);
drawTicks(byId('e-ticks'), tempTicks, tempMinor, xE, 562.3, 583);

/* panel f */
drawBands(byId('f-bands'), fBands, xF, 562.3);
[fT30, fT60, fT90, fT120, fT150, fT180, fT210, fT230, fT250].forEach((vals, i) => drawSpectrum(byId('f-lines'), [fWavenumbers], vals, xF, 562.3, seriesTemps[i]));
drawTicks(byId('f-ticks'), fTicks, fMinor, xF, 562.3, 588);

/* panel g */
drawHeatmap(byId('g-heat'), 'g', gWavenumbers, [gT250, gT230, gT210, gT180, gT150, gT120, gT90, gT60, gT30, gBelow30], gRowNames, rowWeightsG, xG, 52, 345, 647, 883);
drawTicks(byId('g-ticks'), fTicks, fMinor, xG, 883, 904);

/* panel h */
const hLayer = byId('h-lines');
drawSeries(hLayer, hCooSn, xH, 883.3, '#7fd1b0', 'circle', 3.8);
drawSeries(hLayer, hCooFe, xH, 883.3, '#7fd1b0', 'square', 3.4);
drawSeries(hLayer, hAcetoneSn, xH, 883.3, '#7461b5', 'circle', 3.8);
drawSeries(hLayer, hAcetoneFe, xH, 883.3, '#7461b5', 'square', 3.4);
drawSeries(hLayer, hCo2Sn, xH, 883.3, '#f3935a', 'circle', 3.8);
drawSeries(hLayer, hCo2Fe, xH, 883.3, '#f3935a', 'square', 3.4);
drawTicks(byId('h-ticks'), tempTicks, tempMinor, xH, 883.3, 903);

/* panel i */
drawBands(byId('i-bands'), iBands, xI, 883.3);
[iT30, iT60, iT90, iT120, iT150, iT180, iT210, iT230, iT250].forEach((vals, i) => drawSpectrum(byId('i-lines'), [iWavenumbers1, iWavenumbers2, iWavenumbers3], vals, xI, 883.3, seriesTemps[i]));
drawTicks(byId('i-ticks'), iTicks, iMinor, xI, 883.3, 910);
</script>
</body>
</html>
